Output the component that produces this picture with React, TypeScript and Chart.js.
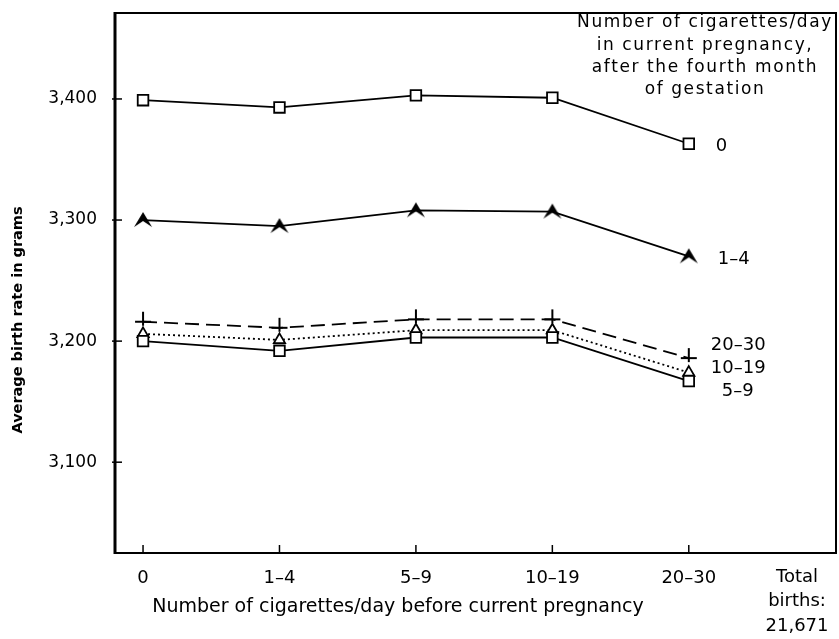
import React, { useEffect, useRef } from "react";
import { Chart, registerables } from "chart.js";
Chart.register(...registerables);

const categories = ["0", "1–4", "5–9", "10–19", "20–30"];
const seriesNames = ["0", "1–4", "20–30", "10–19", "5–9"];
const s0 = [3399, 3393, 3403, 3401, 3363];
const s1to4 = [3300, 3295, 3308, 3307, 3270];
const s20to30 = [3216, 3211, 3218, 3218, 3186];
const s10to19 = [3206, 3201, 3209, 3209, 3174];
const s5to9 = [3200, 3192, 3203, 3203, 3167];
const yTicks = [3100, 3200, 3300, 3400];
const legendLines = [
  "Number of cigarettes/day",
  "in current pregnancy,",
  "after the fourth month",
  "of gestation",
];
const xTitle = "Number of cigarettes/day before current pregnancy";
const yTitle = "Average birth rate in grams";
const totalLines = ["Total", "births:", "21,671"];

const FONT = "'DejaVu Sans', sans-serif";

function makeMarker(kind: string): HTMLCanvasElement {
  const c = document.createElement("canvas");
  c.width = 22;
  c.height = 22;
  const g = c.getContext("2d")!;
  g.strokeStyle = "#000";
  g.fillStyle = "#000";
  g.lineWidth = 2;
  if (kind === "star") {
    g.beginPath();
    g.moveTo(2, 18);
    g.lineTo(11, 3);
    g.lineTo(20, 18);
    g.lineTo(11, 12);
    g.closePath();
    g.fill();
  } else if (kind === "plus") {
    g.beginPath();
    g.moveTo(3, 11);
    g.lineTo(19, 11);
    g.moveTo(11, 1);
    g.lineTo(11, 15);
    g.stroke();
  }
  return c;
}

const toPts = (arr: number[]) => arr.map((v, i) => ({ x: i, y: v }));

export default function App() {
  const ref = useRef<HTMLCanvasElement>(null);
  useEffect(() => {
    const star = makeMarker("star");
    const plus = makeMarker("plus");
    const textPlugin = {
      id: "decor",
      afterDraw(chart: any) {
        const ctx = chart.ctx;
        const a = chart.chartArea;
        const xs = chart.scales.x;
        const ys = chart.scales.y;
        ctx.save();
        ctx.strokeStyle = "#000";
        // frame
        ctx.lineWidth = 2;
        ctx.beginPath();
        ctx.moveTo(a.left, a.top);
        ctx.lineTo(a.right, a.top);
        ctx.lineTo(a.right, a.bottom);
        ctx.lineTo(a.left, a.bottom);
        ctx.stroke();
        ctx.lineWidth = 3;
        ctx.beginPath();
        ctx.moveTo(a.left, a.top - 1);
        ctx.lineTo(a.left, a.bottom + 1);
        ctx.stroke();
        // ticks
        ctx.lineWidth = 1.5;
        yTicks.forEach((v) => {
          const y = ys.getPixelForValue(v);
          ctx.beginPath();
          ctx.moveTo(a.left - 3, y);
          ctx.lineTo(a.left + 7, y);
          ctx.stroke();
        });
        categories.forEach((_, i) => {
          const x = xs.getPixelForValue(i);
          ctx.beginPath();
          ctx.moveTo(x, a.bottom);
          ctx.lineTo(x, a.bottom - 8);
          ctx.stroke();
        });
        ctx.fillStyle = "#000";
        ctx.textBaseline = "middle";
        // legend title
        ctx.textAlign = "center";
        ctx.font = `17px ${FONT}`;
        (ctx as any).letterSpacing = "1.6px";
        legendLines.forEach((t, i) => ctx.fillText(t, 705, 23 + i * 22.3));
        (ctx as any).letterSpacing = "0px";
        // series labels
        ctx.font = `18px ${FONT}`;
        ctx.textAlign = "left";
        const x4 = xs.getPixelForValue(4);
        ctx.fillText(seriesNames[0], x4 + 27, ys.getPixelForValue(s0[4]) + 3);
        ctx.fillText(seriesNames[1], x4 + 29, ys.getPixelForValue(s1to4[4]) + 3);
        ctx.fillText(seriesNames[2], x4 + 22, 345);
        ctx.fillText(seriesNames[3], x4 + 22, 368);
        ctx.fillText(seriesNames[4], x4 + 33, 391);
        // x title
        ctx.textAlign = "center";
        ctx.font = `19px ${FONT}`;
        ctx.fillText(xTitle, 398, 607);
        // total births
        ctx.font = `18px ${FONT}`;
        totalLines.forEach((t, i) => ctx.fillText(t, 797, 577 + i * 24.5));
        // y title
        ctx.translate(18, 320);
        ctx.rotate(-Math.PI / 2);
        ctx.font = `bold 14.5px ${FONT}`;
        ctx.fillText(yTitle, 0, 0);
        ctx.restore();
      },
    };
    const common = {
      borderColor: "#000",
      pointBorderColor: "#000",
      borderWidth: 1.8,
      pointBorderWidth: 1.8,
    };
    const chart = new Chart(ref.current!, {
      type: "line",
      data: {
        datasets: [
          {
            ...common,
            label: seriesNames[0],
            data: toPts(s0),
            pointStyle: "rect",
            pointRadius: 7.5,
            pointBackgroundColor: "#fff",
          },
          {
            ...common,
            label: seriesNames[1],
            data: toPts(s1to4),
            pointStyle: star,
            pointRadius: 8,
          },
          {
            ...common,
            label: seriesNames[2],
            data: toPts(s20to30),
            pointStyle: plus,
            pointRadius: 8,
            borderDash: [14, 7],
          },
          {
            ...common,
            label: seriesNames[4],
            data: toPts(s5to9),
            pointStyle: "rect",
            pointRadius: 7.5,
            pointBackgroundColor: "#fff",
          },
          {
            ...common,
            label: seriesNames[3],
            data: toPts(s10to19),
            pointStyle: "triangle",
            pointRadius: 6.5,
            pointBackgroundColor: "#fff",
            borderDash: [2, 3],
          },
        ],
      },
      options: {
        responsive: false,
        animation: false,
        layout: { autoPadding: false, padding: { top: 13, right: 3, left: 0, bottom: 0 } },
        plugins: { legend: { display: false }, tooltip: { enabled: false } },
        scales: {
          x: {
            type: "linear",
            min: -0.2055,
            max: 5.079,
            grid: { display: false, drawTicks: false },
            border: { display: false },
            afterBuildTicks: (s: any) => {
              s.ticks = categories.map((_, i) => ({ value: i }));
            },
            afterFit: (s: any) => {
              s.height = 86;
              s.paddingLeft = 0;
              s.paddingRight = 0;
            },
            ticks: {
              padding: 15,
              color: "#000",
              font: { family: FONT, size: 18 },
              maxRotation: 0,
              autoSkip: false,
              callback: (v: any) => categories[v] ?? "",
            },
          },
          y: {
            min: 3025,
            max: 3471,
            grid: { display: false, drawTicks: false },
            border: { display: false },
            afterBuildTicks: (s: any) => {
              s.ticks = yTicks.map((v) => ({ value: v }));
            },
            afterFit: (s: any) => {
              s.width = 115;
              s.paddingTop = 0;
              s.paddingBottom = 0;
            },
            ticks: {
              padding: 18,
              color: "#000",
              font: { family: FONT, size: 17 },
              callback: (v: any) => Number(v).toLocaleString("en-US"),
            },
          },
        },
      },
      plugins: [textPlugin],
    } as any);
    return () => chart.destroy();
  }, []);
  return (
    <div style={{ position: "fixed", left: 0, top: 0, width: 839, height: 639, background: "#fff" }}>
      <canvas ref={ref} width={839} height={639} />
    </div>
  );
}
